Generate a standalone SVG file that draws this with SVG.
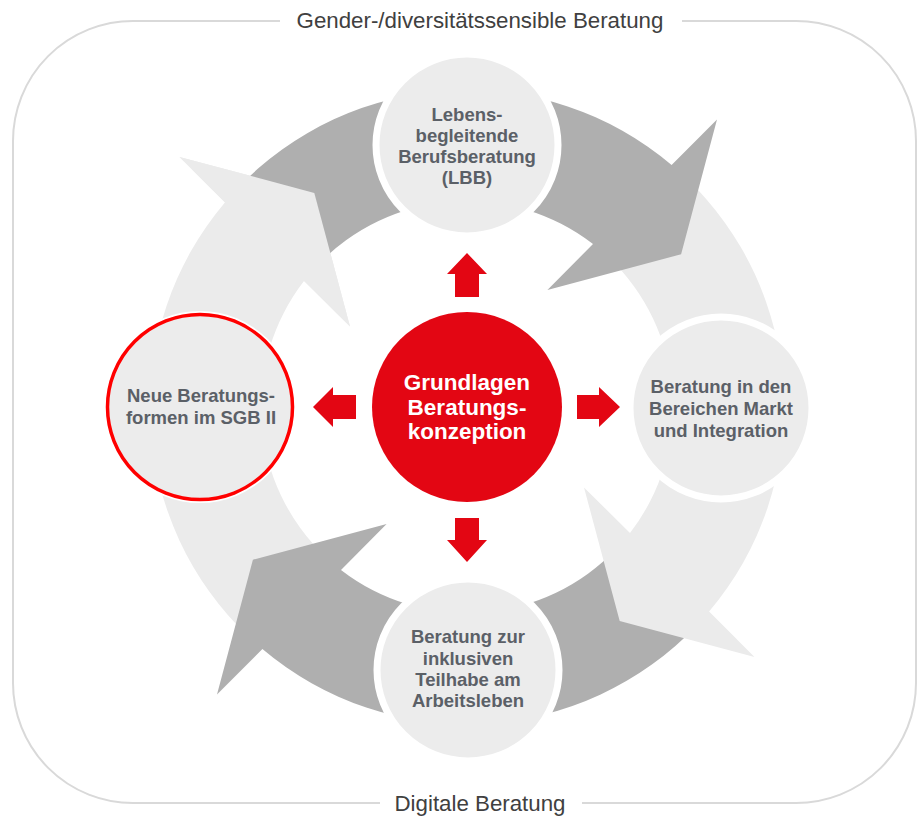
<svg xmlns="http://www.w3.org/2000/svg" width="917" height="816" viewBox="0 0 917 816">
<style>
.frame{fill:none;stroke:#d9d9d9;stroke-width:2}
.gap{fill:#fff}
.title{font-family:"Liberation Sans",Arial,sans-serif;font-size:22.3px;fill:#404040;text-anchor:middle}
.dark{fill:#afafaf}
.light{fill:#ebebeb}
.node{fill:#ececec;stroke:#fff;stroke-width:7}
.sel{fill:#ececec;stroke:#ff0000;stroke-width:3.5}
.nt{font-family:"Liberation Sans",Arial,sans-serif;font-weight:bold;font-size:18.5px;fill:#5b6067;text-anchor:middle}
.red{fill:#e30613}
.ct{font-family:"Liberation Sans",Arial,sans-serif;font-weight:bold;font-size:22.5px;fill:#fff;text-anchor:middle}
</style>
<defs>
<path id="arc-arrow" d="M -149.4 -141.8 L -230 -218.2 A 317 317 0 0 1 204.6 -242.1 L 250 -287.5 L 214.1 -152.7 L 80.4 -117 L 126 -163 A 206 206 0 0 0 -149.4 -141.8 Z"/>
<polygon id="arc-head" points="250,-287.5 214.1,-152.7 80.4,-117"/>
</defs>
<rect x="0" y="0" width="917" height="816" fill="#fff"/>
<g id="frame">
<rect class="frame" x="13" y="21" width="903" height="782" rx="120" ry="120"/>
<rect class="gap" x="280" y="10" width="402" height="22"/>
<rect class="gap" x="380" y="792" width="202" height="22"/>
<text class="title" x="480" y="28">Gender-/diversitätssensible Beratung</text>
<text class="title" x="480" y="811">Digitale Beratung</text>
</g>
<g id="connectors">
<g transform="translate(467,407)">
<use href="#arc-arrow" class="light" transform="rotate(270)"/>
<use href="#arc-arrow" class="dark" transform="rotate(180)"/>
<use href="#arc-arrow" class="light" transform="rotate(90)"/>
<use href="#arc-arrow" class="dark"/>
<use href="#arc-head" class="light" transform="rotate(270)"/>
</g>
<polygon class="red" points="467,253 487,274 479,274 479,297 455,297 455,274 447,274"/>
<polygon class="red" points="467,562 487,540 479,540 479,518 455,518 455,540 447,540"/>
<polygon class="red" points="313,407 333,387 333,395 356,395 356,419 333,419 333,427"/>
<polygon class="red" points="620,407 599,387 599,395 577,395 577,419 599,419 599,427"/>
</g>
<g id="node-lbb">
<circle class="node" cx="467" cy="145" r="91"/>
<text class="nt" x="467" y="121">Lebens-</text>
<text class="nt" x="467" y="142">begleitende</text>
<text class="nt" x="467" y="163">Berufsberatung</text>
<text class="nt" x="467" y="183.5">(LBB)</text>
</g>
<g id="node-markt">
<circle class="node" cx="721" cy="408" r="91"/>
<text class="nt" x="721" y="392.5">Beratung in den</text>
<text class="nt" x="721" y="414.5">Bereichen Markt</text>
<text class="nt" x="721" y="436.5">und Integration</text>
</g>
<g id="node-teilhabe">
<circle class="node" cx="468" cy="670" r="91"/>
<text class="nt" x="468" y="643">Beratung zur</text>
<text class="nt" x="468" y="665">inklusiven</text>
<text class="nt" x="468" y="686">Teilhabe am</text>
<text class="nt" x="468" y="707">Arbeitsleben</text>
</g>
<g id="node-sgb">
<circle cx="200" cy="407" r="96" fill="#fff"/>
<circle class="sel" cx="200" cy="407" r="92.5"/>
<text class="nt" x="201" y="401.5">Neue Beratungs-</text>
<text class="nt" x="201" y="424">formen im SGB II</text>
</g>
<g id="node-center">
<circle class="red" cx="467" cy="407" r="95"/>
<text class="ct" x="467" y="390">Grundlagen</text>
<text class="ct" x="467" y="414.5">Beratungs-</text>
<text class="ct" x="467" y="439">konzeption</text>
</g>
</svg>
